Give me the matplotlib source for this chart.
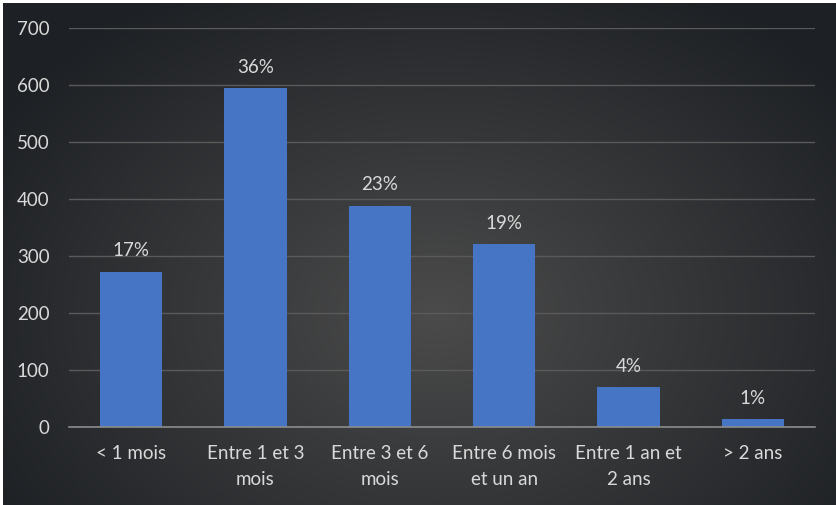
import numpy as np
import matplotlib
matplotlib.use('Agg')
import matplotlib.pyplot as plt

# Data
categories = ['< 1 mois', 'Entre 1 et 3\nmois', 'Entre 3 et 6\nmois',
              'Entre 6 mois\net un an', 'Entre 1 an et\n2 ans', '> 2 ans']
counts = [272, 594, 388, 321, 70, 14]
percent_labels = ['17%', '36%', '23%', '19%', '4%', '1%']
y_ticks = [0, 100, 200, 300, 400, 500, 600, 700]

plt.rcParams['font.family'] = ['Lato', 'DejaVu Sans']
text_color = '#d9d9d9'

W, H = 837, 505
fig = plt.figure(figsize=(W / 100, H / 100), dpi=100)

# radial dark-gray background
bg = fig.add_axes([0, 0, 1, 1])
yy, xx = np.mgrid[0:H, 0:W]
cx, cy = W * 0.52, H * 0.62
d = np.sqrt(((xx - cx) / (W * 0.62)) ** 2 + ((yy - cy) / (H * 0.75)) ** 2)
d = np.clip(d, 0, 1)
inner = np.array([0x4b, 0x4b, 0x4b]) / 255
outer = np.array([0x1d, 0x20, 0x24]) / 255
img = inner[None, None, :] * (1 - d[..., None]) + outer[None, None, :] * d[..., None]
# thin light frame on left and top
img[:, :3, :] = 1.0
img[:3, :, :] = 1.0
bg.imshow(img, aspect='auto', interpolation='bilinear')
bg.axis('off')

ax = fig.add_axes([69 / W, 1 - 427 / H, (815 - 69) / W, (427 - 28) / H])
ax.patch.set_alpha(0)

x = np.arange(len(categories))
bars = ax.bar(x, counts, width=0.5, color='#4675c5', zorder=3)

for rect, lab in zip(bars, percent_labels):
    ax.annotate(lab, (rect.get_x() + rect.get_width() / 2, rect.get_height()),
                xytext=(0, 9), textcoords='offset points',
                ha='center', va='bottom', color=text_color, fontsize=13.5)

ax.set_xlim(-0.5, len(categories) - 0.5)
ax.set_ylim(0, 700)
ax.set_yticks(y_ticks)
ax.set_xticks(x)
ax.set_xticklabels(categories, color=text_color, fontsize=13.5, linespacing=1.65)
ax.tick_params(axis='y', colors=text_color, labelsize=13.5, length=0, pad=14)
ax.tick_params(axis='x', length=0, pad=13)
for lbl in ax.get_yticklabels():
    lbl.set_color(text_color)

ax.grid(axis='y', color='#5a5a5a', linewidth=1, zorder=0)
for s in ['top', 'right', 'left']:
    ax.spines[s].set_visible(False)
ax.spines['bottom'].set_color('#8c8c8c')
ax.spines['bottom'].set_linewidth(1.2)
ax.spines['bottom'].set_zorder(4)

fig.savefig('out.png', dpi=100)
